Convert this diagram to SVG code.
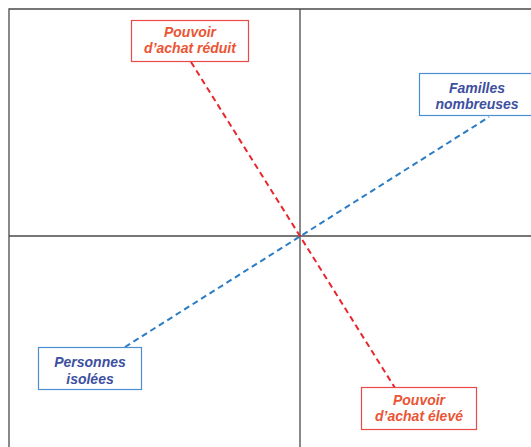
<svg xmlns="http://www.w3.org/2000/svg" width="531" height="447" viewBox="0 0 531 447">
<style>
.axis{stroke:#4a4a4a;stroke-width:1.3;fill:none}
.dr{stroke:#e8262e;stroke-width:2;stroke-dasharray:6 4;fill:none}
.db{stroke:#2a7cc4;stroke-width:2;stroke-dasharray:6 4;fill:none}
.br{fill:#fff;stroke:#e84a4a;stroke-width:1.2}
.bb{fill:#fff;stroke:#4a90d0;stroke-width:1.2}
text{font-family:"Liberation Sans",Arial,sans-serif;font-size:14px;font-weight:bold;font-style:italic;text-anchor:middle}
.tr{fill:#ea5535}
.tb{fill:#3d4fa0}
</style>
<rect width="531" height="447" fill="#fff"/>
<g id="connectors">
<path class="axis" d="M9 447V9H531"/>
<path class="axis" d="M300 9V447M9 236H531"/>
<path class="dr" d="M191 62L395 388"/>
<path class="db" d="M125 347L489 117"/>
</g>
<g id="pouvoir-reduit"><rect class="br" x="131.5" y="20.5" width="117" height="41"/><text class="tr" x="190" y="37">Pouvoir</text><text class="tr" x="190" y="53">d’achat réduit</text></g>
<g id="familles"><rect class="bb" x="419.5" y="73.5" width="114" height="42"/><text class="tb" x="477" y="93">Familles</text><text class="tb" x="477" y="109">nombreuses</text></g>
<g id="personnes"><rect class="bb" x="38.5" y="347.5" width="103" height="42"/><text class="tb" x="90" y="367">Personnes</text><text class="tb" x="90" y="384">isolées</text></g>
<g id="pouvoir-eleve"><rect class="br" x="361.5" y="387.5" width="115" height="42"/><text class="tr" x="419" y="405">Pouvoir</text><text class="tr" x="419" y="421">d’achat élevé</text></g>
</svg>
